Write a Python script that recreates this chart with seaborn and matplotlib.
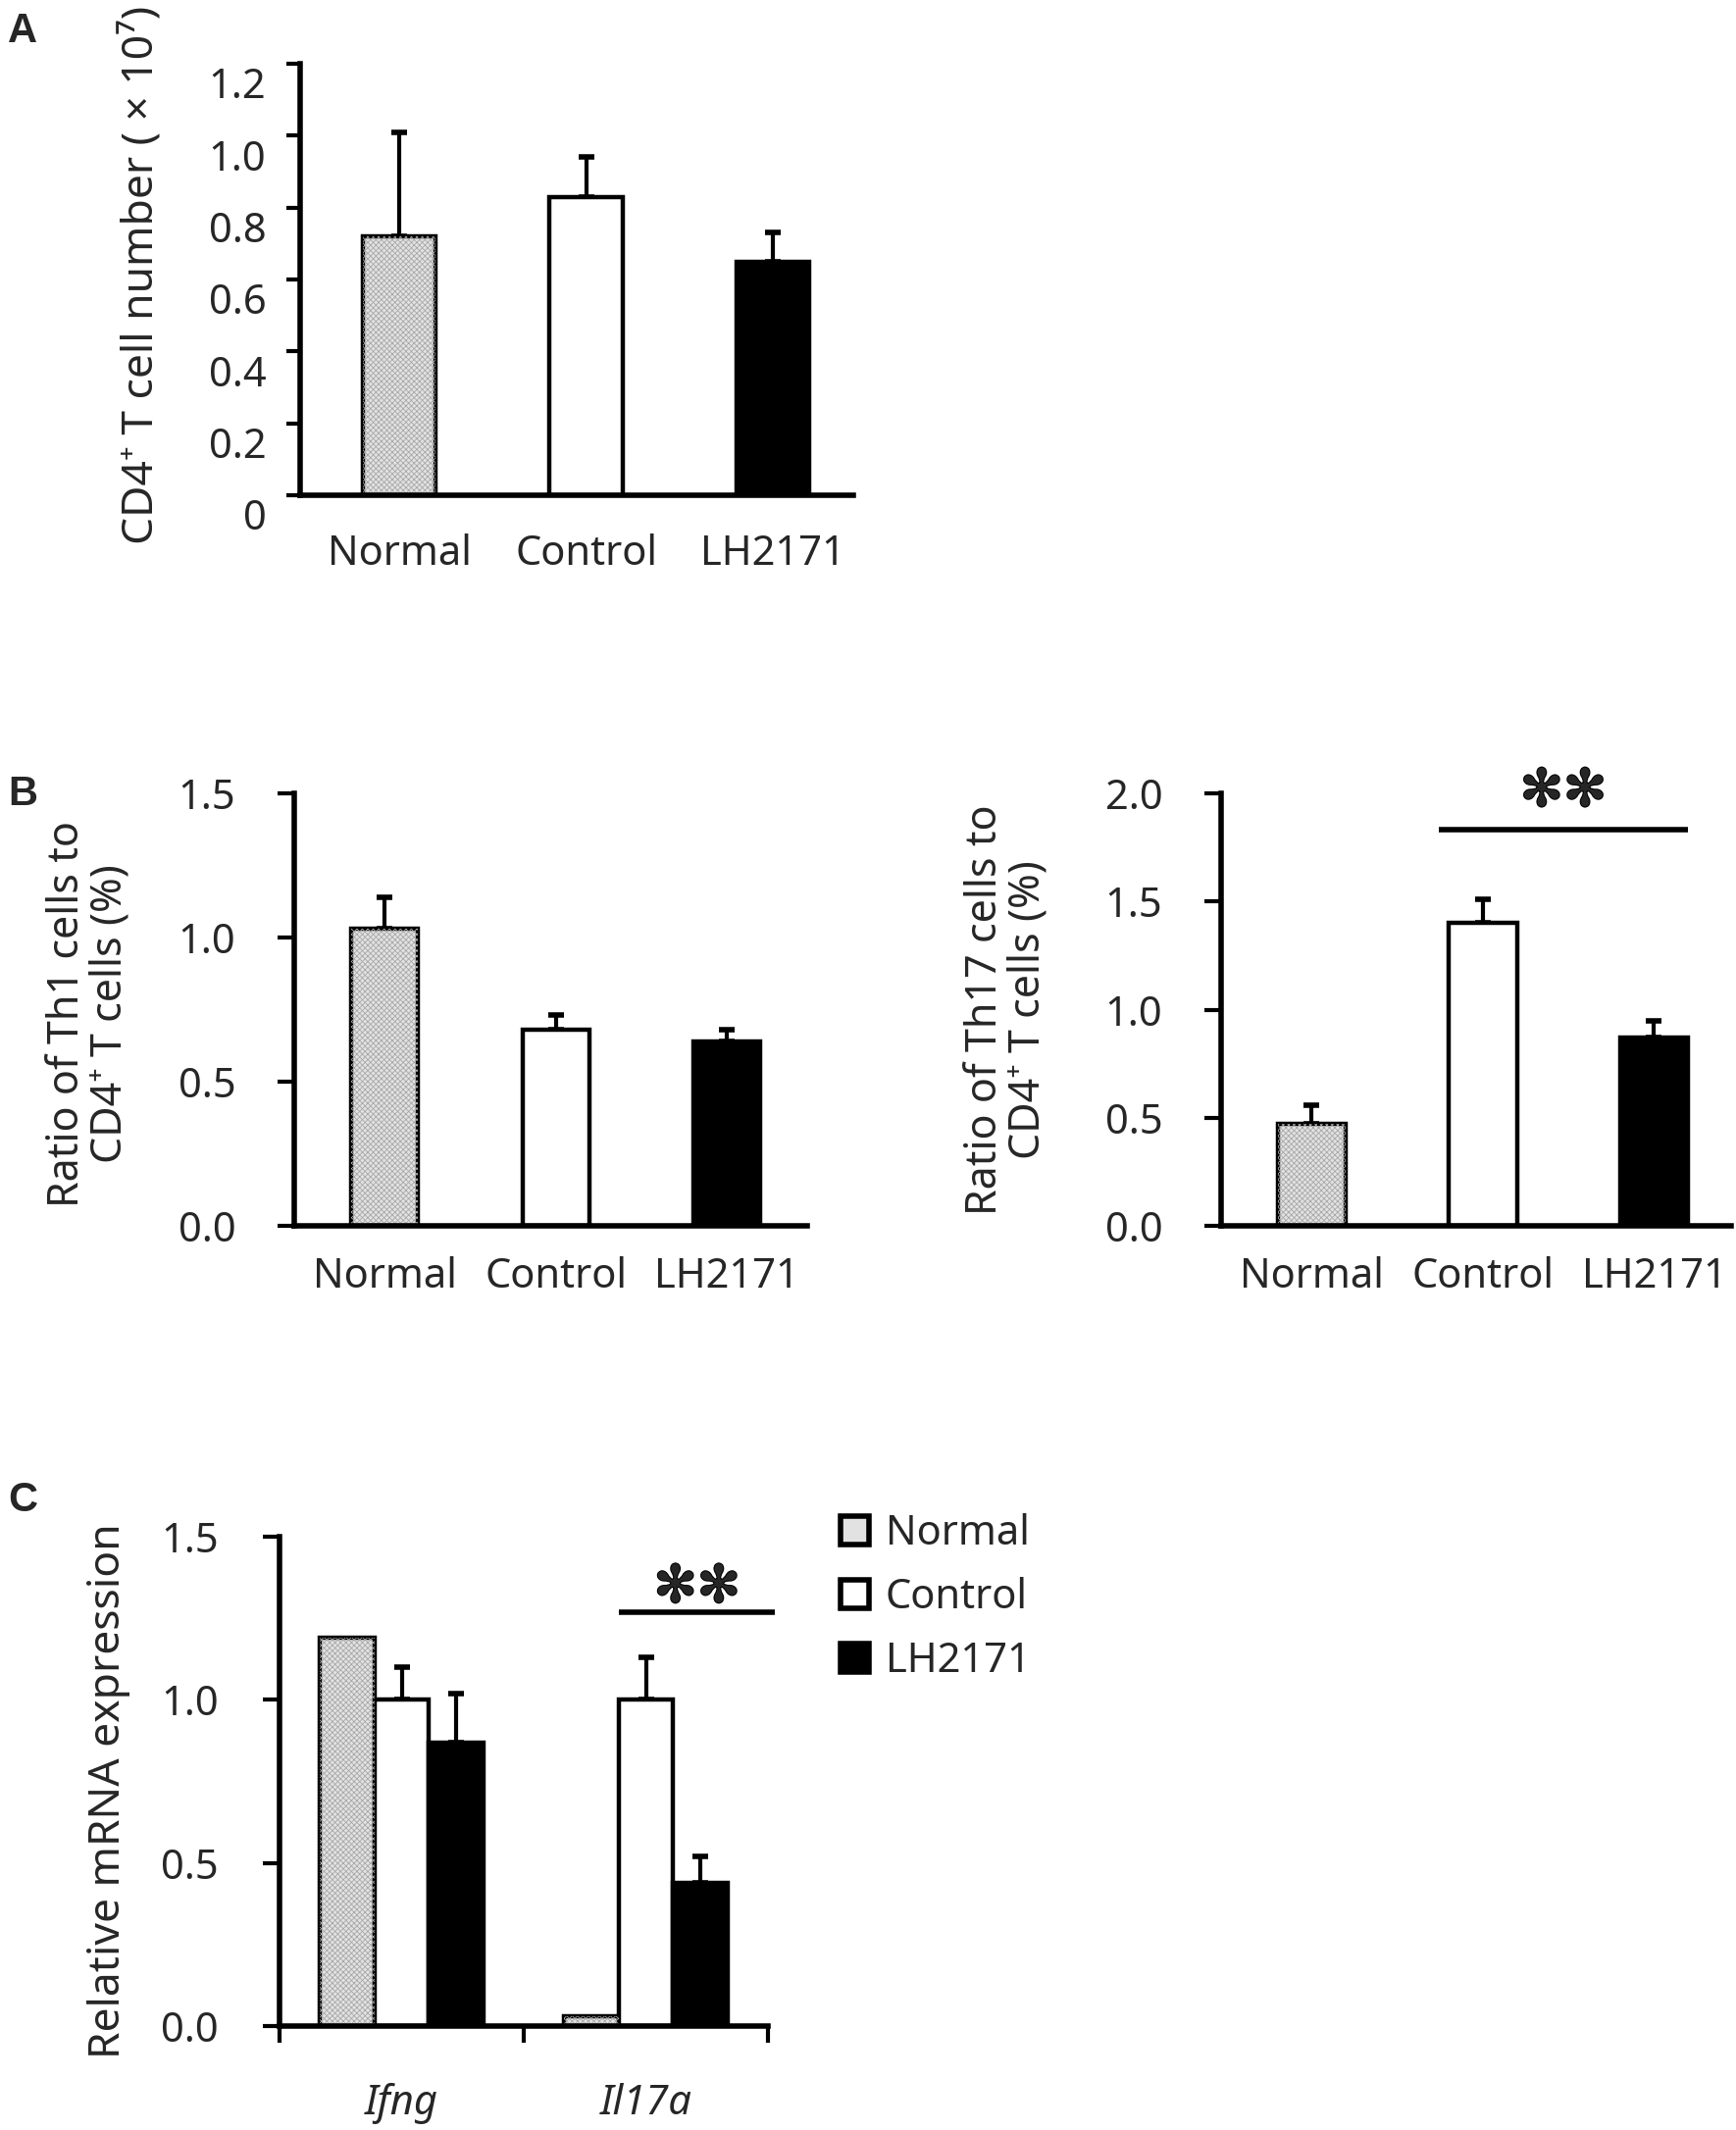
import numpy as np
import pandas as pd
import matplotlib
matplotlib.use("Agg")
import matplotlib.pyplot as plt
import matplotlib.transforms as mtransforms
import matplotlib.patheffects as pe
from matplotlib.patches import Rectangle
import seaborn as sns

# groups and fills
groups = ["Normal", "Control", "LH2171"]
group_colors = ["#e2e2e2", "#ffffff", "#000000"]

# A: CD4+ T cell number (x10^7)
cd4_mean = [0.72, 0.83, 0.65]
cd4_err = [0.29, 0.11, 0.08]
cd4_ticks = [0, 0.2, 0.4, 0.6, 0.8, 1.0, 1.2]
cd4_ticklabels = ["0", "0.2", "0.4", "0.6", "0.8", "1.0", "1.2"]

# B: Th1 / Th17 ratio (%)
th1_mean = [1.03, 0.68, 0.64]
th1_err = [0.11, 0.05, 0.04]
th17_mean = [0.47, 1.40, 0.87]
th17_err = [0.09, 0.11, 0.08]

# C: relative mRNA expression
genes = ["Ifng", "Il17a"]
mrna_normal = [1.19, 0.03]
mrna_normal_err = [0.0, 0.0]
mrna_control = [1.00, 1.00]
mrna_control_err = [0.10, 0.13]
mrna_lh2171 = [0.87, 0.44]
mrna_lh2171_err = [0.15, 0.08]

sns.set_style("white")
plt.rcParams["font.family"] = ["Noto Sans", "DejaVu Sans"]
plt.rcParams["hatch.linewidth"] = 0.6

W, H = 1770, 2172
fig = plt.figure(figsize=(W / 100, H / 100), dpi=100)
palette = dict(zip(groups, group_colors))


def px_axes(l, t, r, b):
    return fig.add_axes([l / W, 1 - b / H, (r - l) / W, (b - t) / H])


def style_axis(ax, ticks, ticklabels, tick_len, pad):
    sns.despine(ax=ax)
    for s in ["left", "bottom"]:
        ax.spines[s].set_linewidth(4)
        ax.spines[s].set_color("black")
    ax.set_ylim(ticks[0], ticks[-1])
    ax.set_yticks(ticks)
    ax.set_yticklabels(ticklabels)
    ax.tick_params(axis="y", direction="out", length=tick_len, width=3,
                   pad=pad, labelsize=30, left=True, color="black")
    ax.set_xlabel("")


def dot_fill(ax, patch):
    # light dotted texture of the Normal bar
    ax.add_patch(Rectangle(patch.get_xy(), patch.get_width(), patch.get_height(),
                           facecolor="none", edgecolor="#a8a8a8", hatch="xxxxxx",
                           linewidth=0, zorder=patch.get_zorder() + 0.1))


def errbars(ax, bars, means, errs):
    xs = [b.get_x() + b.get_width() / 2 for b in bars]
    keep = [i for i, e in enumerate(errs) if e > 0]
    ax.errorbar([xs[i] for i in keep], [means[i] for i in keep],
                yerr=[[0] * len(keep), [errs[i] for i in keep]],
                fmt="none", ecolor="black", elinewidth=3, capsize=6,
                capthick=4, zorder=1)


def simple_panel(ax, means, errs, ticks, ticklabels, tick_len, ypad, xpad, xlim, width):
    df = pd.DataFrame({"group": groups, "value": means})
    sns.barplot(data=df, x="group", y="value", hue="group", order=groups,
                hue_order=groups, palette=palette, width=width, edgecolor="black",
                linewidth=3.2, errorbar=None, legend=False, ax=ax, zorder=2)
    bars = [c[0] for c in ax.containers]
    dot_fill(ax, bars[0])
    errbars(ax, bars, means, errs)
    style_axis(ax, ticks, ticklabels, tick_len, ypad)
    ax.set_xlim(*xlim)
    ax.tick_params(axis="x", length=0, pad=xpad, labelsize=30)
    ax.set_ylabel("")


def stars(ax, x0, x1, y_line, y_star):
    ax.plot([x0, x1], [y_line, y_line], color="black", lw=4, clip_on=False,
            solid_capstyle="butt")
    ax.text((x0 + x1) / 2, y_star, "✻✻", fontsize=38, family="DejaVu Sans",
            ha="center", va="center", clip_on=False,
            path_effects=[pe.withStroke(linewidth=1.5, foreground="black")])


# ---- Panel A
ax_a = px_axes(306, 65, 870, 505)
simple_panel(ax_a, cd4_mean, cd4_err, cd4_ticks, cd4_ticklabels, 10, 15, 28,
             (-0.53, 2.43), 0.39)
ax_a.set_ylabel("CD4⁺ T cell number ( × 10⁷)", fontsize=32, va="center")
ax_a.yaxis.set_label_coords(-0.285, 0.51)
shift = mtransforms.ScaledTranslation(0, -14 / 72, fig.dpi_scale_trans)
for lbl in ax_a.get_yticklabels():
    lbl.set_transform(lbl.get_transform() + shift)

# ---- Panel B left
ax_b1 = px_axes(300, 809, 823, 1250)
simple_panel(ax_b1, th1_mean, th1_err, [0, 0.5, 1.0, 1.5],
             ["0.0", "0.5", "1.0", "1.5"], 12, 31, 22, (-0.53, 2.47), 0.39)
ax_b1.set_ylabel("Ratio of Th1 cells to\nCD4⁺ T cells (%)", fontsize=31,
                 va="center", linespacing=1.0)
ax_b1.yaxis.set_label_coords(-0.40, 0.49)

# ---- Panel B right
ax_b2 = px_axes(1245, 809, 1765, 1250)
simple_panel(ax_b2, th17_mean, th17_err, [0, 0.5, 1.0, 1.5, 2.0],
             ["0.0", "0.5", "1.0", "1.5", "2.0"], 12, 31, 22, (-0.53, 2.45), 0.40)
ax_b2.set_ylabel("Ratio of Th17 cells to\nCD4⁺ T cells (%)", fontsize=31,
                 va="center", linespacing=1.0)
ax_b2.yaxis.set_label_coords(-0.42, 0.50)
stars(ax_b2, 0.74, 2.20, 1.83, 2.01)

# ---- Panel C
ax_c = px_axes(285, 1567, 783, 2066)
df_c = pd.DataFrame({
    "gene": genes * 3,
    "group": [g for g in groups for _ in genes],
    "value": mrna_normal + mrna_control + mrna_lh2171,
})
sns.barplot(data=df_c, x="gene", y="value", hue="group", order=genes,
            hue_order=groups, palette=palette, width=0.67, gap=0,
            edgecolor="black", linewidth=3.2, errorbar=None, ax=ax_c, zorder=2)
for bar in ax_c.containers[0]:
    dot_fill(ax_c, bar)
for cont, m, e in zip(ax_c.containers,
                      [mrna_normal, mrna_control, mrna_lh2171],
                      [mrna_normal_err, mrna_control_err, mrna_lh2171_err]):
    errbars(ax_c, list(cont), m, e)
style_axis(ax_c, [0, 0.5, 1.0, 1.5], ["0.0", "0.5", "1.0", "1.5"], 12, 33)
ax_c.set_xlim(-0.5, len(genes) - 0.5)
ax_c.set_xticks(range(len(genes)))
ax_c.set_xticklabels(genes, fontstyle="italic")
ax_c.set_xticks(np.arange(len(genes) + 1) - 0.5, minor=True)
ax_c.tick_params(axis="x", which="major", length=0, pad=42, labelsize=30)
ax_c.tick_params(axis="x", which="minor", bottom=True, direction="out",
                 length=12, width=3, color="black")
ax_c.set_ylabel("Relative mRNA expression", fontsize=32, va="center")
ax_c.yaxis.set_label_coords(-0.35, 0.48)
stars(ax_c, 0.89, 1.53, 1.27, 1.345)
sns.move_legend(ax_c, "upper left", bbox_to_anchor=(857 / W, 1 - 1543 / H),
                bbox_transform=fig.transFigure, title=None, frameon=False,
                fontsize=30, handlelength=0.7, handleheight=0.7,
                handletextpad=0.4, labelspacing=0.55, borderpad=0,
                borderaxespad=0)
for h in ax_c.get_legend().legend_handles:
    h.set_linewidth(4)

# panel letters
for letter, (x, y) in zip(["A", "B", "C"], [(23, 32), (23, 810), (23, 1530)]):
    fig.text(x / W, 1 - y / H, letter, fontsize=30, fontweight="bold",
             family="Liberation Sans", ha="center", va="center")

fig.savefig("out.png", dpi=100, facecolor="white")
